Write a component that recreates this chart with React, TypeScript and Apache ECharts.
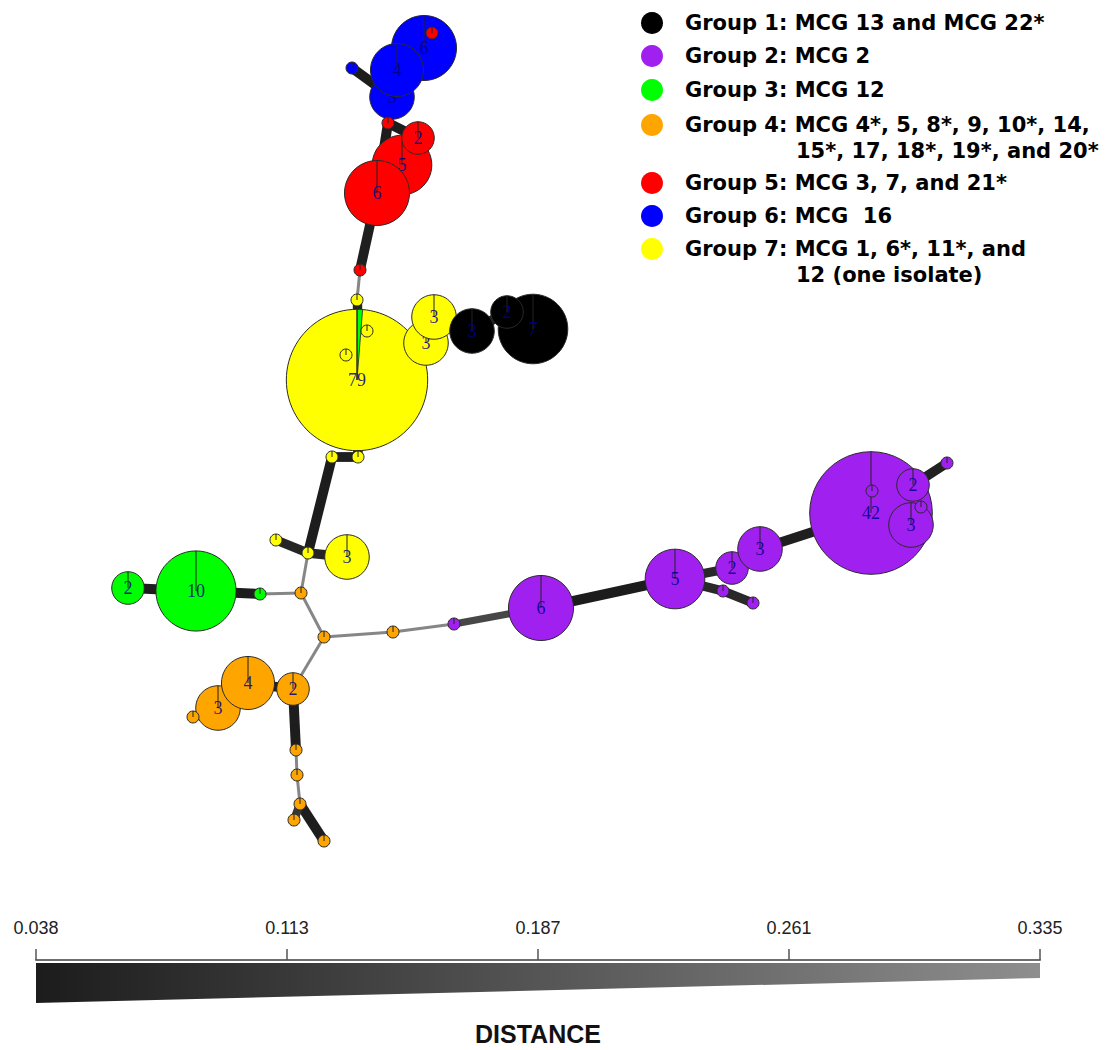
import React, { useEffect, useRef } from "react";
import * as echarts from "echarts";

// ---------- DATA ----------
const groupColors = ["#000000", "#A020F0", "#00FF00", "#FFA500", "#FF0000", "#0000FF", "#FFFF00"];

const legendLines: string[][] = [
  ["Group 1: MCG 13 and MCG 22*"],
  ["Group 2: MCG 2"],
  ["Group 3: MCG 12"],
  ["Group 4: MCG 4*, 5, 8*, 9, 10*, 14,", "15*, 17, 18*, 19*, and 20*"],
  ["Group 5: MCG 3, 7, and 21*"],
  ["Group 6: MCG  16"],
  ["Group 7: MCG 1, 6*, 11*, and", "12 (one isolate)"],
];

// network layout coordinates (x, y), isolate counts and group of each node
const nodeX = [424, 392, 397, 352, 432, 388, 402, 418, 377, 360, 357, 357, 367, 346, 426, 434, 533, 507, 472, 358, 332, 308, 276, 347, 128, 196, 260, 301, 324, 393, 454, 541, 675, 723, 753, 732, 760, 871, 872, 911, 913, 921, 947, 218, 248, 293, 193, 296, 297, 300, 294, 324];
const nodeY = [48, 97, 70, 68, 33, 123, 165, 138, 193, 270, 300, 380, 331, 355, 343, 317, 329, 312, 331, 457, 457, 553, 540, 557, 588, 591, 594, 593, 637, 632, 624, 608, 579, 591, 603, 568, 549, 513, 491, 525, 485, 507, 463, 708, 683, 689, 717, 750, 775, 804, 820, 841];
const nodeCount = [6, 3, 4, 1, 1, 1, 5, 2, 6, 1, 1, 79, 1, 1, 3, 3, 7, 2, 3, 1, 1, 1, 1, 3, 2, 10, 1, 1, 1, 1, 1, 6, 5, 1, 1, 2, 3, 42, 1, 3, 2, 1, 1, 3, 4, 2, 1, 1, 1, 1, 1, 1];
const nodeGroup = [6, 6, 6, 6, 5, 5, 5, 5, 5, 5, 7, 7, 7, 7, 7, 7, 1, 1, 1, 7, 7, 7, 7, 7, 3, 3, 3, 4, 4, 4, 2, 2, 2, 2, 2, 2, 2, 2, 2, 2, 2, 2, 2, 4, 4, 4, 4, 4, 4, 4, 4, 4];

// mixed node (pie slice of another group)
const sliceNode = [11];
const sliceGroup = [3];
const sliceCount = [1];

// edges of the minimum spanning network
const edgeFrom = [3, 1, 2, 0, 1, 5, 5, 6, 6, 8, 9, 10, 11, 11, 11, 14, 15, 18, 17, 11, 19, 20, 21, 21, 21, 27, 26, 25, 27, 28, 29, 30, 31, 32, 35, 36, 32, 33, 37, 37, 37, 40, 39, 28, 45, 44, 43, 45, 47, 48, 49, 49];
const edgeTo = [1, 2, 0, 4, 5, 7, 8, 8, 7, 9, 10, 11, 12, 13, 14, 15, 18, 17, 16, 19, 20, 21, 22, 23, 27, 26, 25, 24, 28, 29, 30, 31, 32, 35, 36, 37, 33, 34, 38, 40, 39, 42, 41, 45, 44, 43, 46, 47, 48, 49, 51, 50];
const edgeDistance = [0.04, 0.04, 0.04, 0.04, 0.05, 0.04, 0.04, 0.04, 0.04, 0.045, 0.29, 0.06, 0.04, 0.04, 0.05, 0.04, 0.05, 0.04, 0.04, 0.05, 0.045, 0.04, 0.06, 0.06, 0.29, 0.29, 0.04, 0.04, 0.29, 0.29, 0.29, 0.14, 0.038, 0.07, 0.05, 0.045, 0.07, 0.07, 0.04, 0.04, 0.04, 0.05, 0.05, 0.29, 0.05, 0.05, 0.05, 0.04, 0.29, 0.29, 0.04, 0.1];

const scaleMin = 0.038;
const scaleMax = 0.335;
const scaleTickLabels = ["0.038", "0.113", "0.187", "0.261", "0.335"];

// ---------- STYLE HELPERS ----------
const nodeRadius = (n: number) => 6 + 14.8 * Math.log(n);
const distT = (d: number) => Math.min(1, Math.max(0, (d - scaleMin) / (scaleMax - scaleMin)));
const edgeWidth = (d: number) => 10 - 8.3 * distT(d);
const edgeColor = (d: number) => {
  const v = Math.round(28 + 125 * distT(d));
  return `rgb(${v},${v},${v})`;
};

const W = 1106;
const H = 1050;

export default function App() {
  const ref = useRef<HTMLDivElement>(null);

  useEffect(() => {
    if (!ref.current) return;
    const chart = echarts.init(ref.current, undefined, { renderer: "svg" });

    const nodeData = nodeX.map((x, i) => [x, nodeY[i], nodeCount[i], nodeGroup[i], i]);
    const edgeData = edgeFrom.map((a, k) => {
      const b = edgeTo[k];
      const d = edgeDistance[k];
      return {
        coords: [
          [nodeX[a], nodeY[a]],
          [nodeX[b], nodeY[b]],
        ],
        lineStyle: { width: edgeWidth(d), color: edgeColor(d), opacity: 1 },
      };
    });

    // legend graphics
    const legendY = [23, 56, 90, 125, 183, 216, 249];
    const legendGraphics: any[] = [];
    legendLines.forEach((lines, gi) => {
      legendGraphics.push({
        type: "circle",
        shape: { cx: 652, cy: legendY[gi], r: 11 },
        style: { fill: groupColors[gi] },
      });
      lines.forEach((t, li) => {
        legendGraphics.push({
          type: "text",
          x: li === 0 ? 685 : 796,
          y: legendY[gi] + li * 26,
          style: {
            text: t,
            fill: "#000",
            font: "bold 21px 'DejaVu Sans'",
            verticalAlign: "middle",
            align: "left",
          },
        });
      });
    });

    const option: any = {
      animation: false,
      backgroundColor: "#ffffff",
      grid: [
        { left: 0, top: 0, width: W, height: H },
        { left: 36, top: 959, width: 1004, height: 1 },
      ],
      xAxis: [
        { type: "value", min: 0, max: W, show: false, gridIndex: 0 },
        {
          type: "value",
          gridIndex: 1,
          min: 0,
          max: 4,
          interval: 1,
          position: "top",
          axisLine: { show: true, lineStyle: { color: "#6e6e6e", width: 2 } },
          axisTick: { show: true, length: 11, lineStyle: { color: "#555", width: 1.5 } },
          axisLabel: {
            formatter: (v: number) => scaleTickLabels[v] ?? "",
            margin: 22,
            fontSize: 18,
            fontFamily: "Liberation Sans",
            color: "#222",
          },
          splitLine: { show: false },
        },
      ],
      yAxis: [
        { type: "value", min: 0, max: H, inverse: true, show: false, gridIndex: 0 },
        { type: "value", gridIndex: 1, show: false, min: 0, max: 1 },
      ],
      series: [
        {
          type: "lines",
          coordinateSystem: "cartesian2d",
          xAxisIndex: 0,
          yAxisIndex: 0,
          z: 1,
          silent: true,
          data: edgeData,
        },
        {
          type: "custom",
          coordinateSystem: "cartesian2d",
          xAxisIndex: 0,
          yAxisIndex: 0,
          z: 2,
          silent: true,
          data: nodeData,
          renderItem: (params: any, api: any) => {
            const idx = api.value(4);
            const pt = api.coord([api.value(0), api.value(1)]);
            const cx = pt[0];
            const cy = pt[1];
            const count = api.value(2);
            const g = api.value(3);
            const r = nodeRadius(count);
            const children: any[] = [
              {
                type: "circle",
                shape: { cx, cy, r },
                style: { fill: groupColors[g - 1], stroke: "#2a2a2a", lineWidth: 1 },
              },
            ];
            const si = sliceNode.indexOf(idx);
            if (si >= 0) {
              const frac = sliceCount[si] / count;
              children.push({
                type: "sector",
                shape: {
                  cx,
                  cy,
                  r0: 0,
                  r,
                  startAngle: -Math.PI / 2,
                  endAngle: -Math.PI / 2 + 2 * Math.PI * frac,
                  clockwise: true,
                },
                style: { fill: groupColors[sliceGroup[si] - 1], stroke: "#2a2a2a", lineWidth: 0.8 },
              });
            }
            children.push({
              type: "line",
              shape: { x1: cx, y1: cy, x2: cx, y2: cy - r },
              style: { stroke: "#222", lineWidth: 1 },
            });
            if (count > 1) {
              children.push({
                type: "text",
                style: {
                  text: String(count),
                  x: cx,
                  y: cy,
                  align: "center",
                  verticalAlign: "middle",
                  fontSize: 18,
                  fontFamily: "Liberation Serif",
                  fill: "#00008B",
                  opacity: 0.85,
                },
              });
            }
            return { type: "group", children };
          },
        },
      ],
      graphic: [
        ...legendGraphics,
        {
          type: "polygon",
          shape: {
            points: [
              [36, 963],
              [1040, 963],
              [1040, 978],
              [36, 1003],
            ],
          },
          style: {
            fill: new echarts.graphic.LinearGradient(0, 0, 1, 0, [
              { offset: 0, color: "#1c1c1c" },
              { offset: 1, color: "#8e8e8e" },
            ]),
          },
        },
        {
          type: "text",
          x: 538,
          y: 1034,
          style: {
            text: "DISTANCE",
            fill: "#111",
            font: "bold 25px 'Liberation Sans'",
            align: "center",
            verticalAlign: "middle",
          },
        },
      ],
    };

    chart.setOption(option);
    return () => chart.dispose();
  }, []);

  return (
    <div
      ref={ref}
      style={{ position: "fixed", left: 0, top: 0, width: W, height: H, background: "#fff" }}
    />
  );
}
